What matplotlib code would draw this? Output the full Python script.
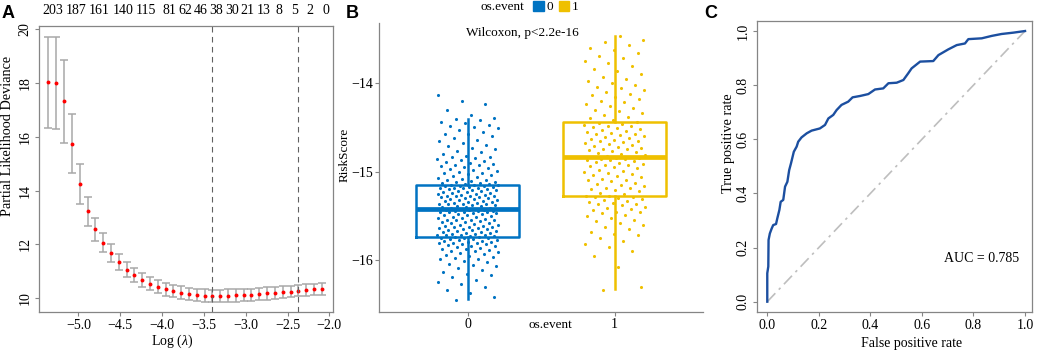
import matplotlib.pyplot as plt
import numpy as np
from matplotlib.patches import Patch

plt.rcParams['font.family'] = 'Liberation Serif'
plt.rcParams['font.size'] = 10
plt.rcParams['mathtext.fontset'] = 'custom'
plt.rcParams['mathtext.rm'] = 'Liberation Serif'
plt.rcParams['mathtext.it'] = 'Liberation Serif:italic'

W, H = 1038, 353

# -----------------------------------------------------------------------------
# Panel A data: cross-validated partial likelihood deviance
log_lambda = [-5.359, -5.266, -5.172, -5.079, -4.985, -4.892, -4.799, -4.705, -4.612,
              -4.518, -4.425, -4.332, -4.238, -4.145, -4.051, -3.958, -3.865, -3.771,
              -3.678, -3.584, -3.491, -3.398, -3.304, -3.211, -3.117, -3.024, -2.931,
              -2.837, -2.744, -2.650, -2.557, -2.464, -2.370, -2.277, -2.183, -2.090]
cv_mean = [18.03, 18.00, 17.33, 15.75, 14.24, 13.23, 12.56, 12.06, 11.68,
           11.34, 11.06, 10.85, 10.67, 10.54, 10.42, 10.32, 10.26, 10.20,
           10.15, 10.11, 10.09, 10.08, 10.08, 10.09, 10.10, 10.11, 10.12,
           10.14, 10.17, 10.18, 10.21, 10.24, 10.28, 10.29, 10.32, 10.34]
cv_se = [1.70, 1.71, 1.55, 1.10, 0.75, 0.54, 0.42, 0.35, 0.32,
         0.30, 0.28, 0.27, 0.26, 0.25, 0.25, 0.24, 0.24, 0.23,
         0.23, 0.23, 0.23, 0.23, 0.23, 0.23, 0.23, 0.23, 0.23,
         0.23, 0.23, 0.22, 0.22, 0.22, 0.22, 0.22, 0.22, 0.22]
lambda_min = -3.398
lambda_1se = -2.370
# number of non-zero coefficients, printed along the top
nz_pos = [-5.312, -5.032, -4.752, -4.471, -4.191, -3.911, -3.724, -3.537,
          -3.351, -3.164, -2.977, -2.790, -2.603, -2.417, -2.230, -2.043]
nz_labels = ['203', '187', '161', '140', '115', '81', '62', '46',
             '38', '30', '21', '13', '8', '5', '2', '0']

# -----------------------------------------------------------------------------
# Panel B data: RiskScore by os.event
groups = ['0', '1']
risk0 = [-16.45, -16.41, -16.37, -16.33, -16.30, -16.27, -16.25, -16.22, -16.19, -16.17,
         -16.15, -16.13, -16.11, -16.09, -16.07, -16.05, -16.04, -16.02, -16.01, -15.99,
         -15.98, -15.97, -15.96, -15.95, -15.94, -15.93, -15.92, -15.91, -15.90, -15.89,
         -15.88, -15.87, -15.87, -15.86, -15.85, -15.84, -15.84, -15.83, -15.82, -15.82,
         -15.81, -15.80, -15.80, -15.79, -15.79, -15.78, -15.78, -15.77, -15.77, -15.76,
         -15.76, -15.75, -15.75, -15.75, -15.74, -15.74, -15.73, -15.73, -15.72, -15.72,
         -15.71, -15.71, -15.70, -15.70, -15.69, -15.69, -15.68, -15.68, -15.67, -15.67,
         -15.66, -15.66, -15.65, -15.65, -15.64, -15.64, -15.63, -15.62, -15.62, -15.61,
         -15.61, -15.60, -15.60, -15.59, -15.58, -15.58, -15.57, -15.57, -15.56, -15.55,
         -15.55, -15.54, -15.54, -15.53, -15.52, -15.52, -15.51, -15.51, -15.50, -15.49,
         -15.49, -15.48, -15.48, -15.47, -15.47, -15.46, -15.46, -15.45, -15.45, -15.44,
         -15.44, -15.44, -15.43, -15.43, -15.43, -15.42, -15.42, -15.42, -15.41, -15.41,
         -15.40, -15.40, -15.39, -15.39, -15.38, -15.38, -15.37, -15.37, -15.36, -15.36,
         -15.35, -15.35, -15.34, -15.34, -15.33, -15.33, -15.32, -15.32, -15.31, -15.31,
         -15.30, -15.30, -15.29, -15.29, -15.28, -15.28, -15.27, -15.27, -15.26, -15.26,
         -15.25, -15.25, -15.24, -15.24, -15.23, -15.23, -15.22, -15.22, -15.21, -15.21,
         -15.20, -15.20, -15.19, -15.19, -15.18, -15.18, -15.17, -15.17, -15.16, -15.16,
         -15.16, -15.15, -15.15, -15.15, -15.14, -15.14, -15.13, -15.13, -15.12, -15.12,
         -15.11, -15.10, -15.09, -15.08, -15.07, -15.06, -15.05, -15.04, -15.03, -15.02,
         -15.01, -15.00, -14.99, -14.98, -14.97, -14.96, -14.95, -14.94, -14.93, -14.92,
         -14.91, -14.90, -14.89, -14.88, -14.87, -14.86, -14.85, -14.84, -14.83, -14.82,
         -14.80, -14.78, -14.77, -14.75, -14.73, -14.71, -14.70, -14.68, -14.66, -14.64,
         -14.62, -14.60, -14.58, -14.57, -14.55, -14.53, -14.51, -14.50, -14.48, -14.47,
         -14.45, -14.44, -14.42, -14.41, -14.40, -14.36, -14.30, -14.24, -14.20, -14.14]
risk1 = [-16.33, -16.30, -16.08, -15.95, -15.90, -15.85, -15.82, -15.78, -15.75, -15.72,
         -15.70, -15.68, -15.65, -15.62, -15.60, -15.58, -15.56, -15.54, -15.52, -15.50,
         -15.49, -15.47, -15.46, -15.45, -15.43, -15.42, -15.41, -15.40, -15.38, -15.37,
         -15.36, -15.35, -15.34, -15.33, -15.32, -15.31, -15.30, -15.29, -15.29, -15.28,
         -15.27, -15.25, -15.24, -15.22, -15.21, -15.20, -15.19, -15.18, -15.16, -15.15,
         -15.14, -15.13, -15.11, -15.10, -15.09, -15.08, -15.06, -15.05, -15.04, -15.03,
         -15.01, -15.00, -14.99, -14.98, -14.96, -14.95, -14.94, -14.93, -14.92, -14.91,
         -14.90, -14.89, -14.88, -14.87, -14.87, -14.86, -14.86, -14.85, -14.85, -14.84,
         -14.83, -14.82, -14.81, -14.80, -14.79, -14.78, -14.77, -14.76, -14.75, -14.74,
         -14.73, -14.72, -14.71, -14.70, -14.69, -14.68, -14.67, -14.66, -14.65, -14.64,
         -14.63, -14.62, -14.61, -14.60, -14.59, -14.58, -14.57, -14.56, -14.55, -14.54,
         -14.53, -14.52, -14.51, -14.50, -14.49, -14.48, -14.47, -14.46, -14.45, -14.44,
         -14.42, -14.40, -14.38, -14.36, -14.34, -14.32, -14.30, -14.28, -14.26, -14.24,
         -14.22, -14.20, -14.18, -14.16, -14.14, -14.12, -14.10, -14.08, -14.06, -14.04,
         -14.02, -14.00, -13.98, -13.96, -13.93, -13.90, -13.87, -13.84, -13.81, -13.78,
         -13.75, -13.72, -13.69, -13.66, -13.63, -13.60, -13.57, -13.54, -13.51, -13.47]
box_q1 = [-15.74, -15.28]
box_med = [-15.42, -14.84]
box_q3 = [-15.15, -14.44]
box_lo = [-16.44, -16.32]
box_hi = [-14.41, -13.47]

# -----------------------------------------------------------------------------
# Panel C data: ROC curve
fpr = [0.0, 0.0, 0.004, 0.005, 0.010, 0.017, 0.023, 0.034, 0.039, 0.047, 0.052,
       0.062, 0.069, 0.078, 0.085, 0.092, 0.103, 0.114, 0.120, 0.133, 0.153,
       0.172, 0.204, 0.224, 0.237, 0.256, 0.269, 0.288, 0.314, 0.331, 0.360,
       0.392, 0.418, 0.450, 0.470, 0.502, 0.528, 0.547, 0.560, 0.593, 0.644,
       0.664, 0.702, 0.735, 0.767, 0.780, 0.832, 0.871, 0.909, 0.955, 1.0]
tpr = [0.0, 0.105, 0.130, 0.228, 0.252, 0.270, 0.283, 0.287, 0.308, 0.339, 0.369,
       0.376, 0.425, 0.443, 0.486, 0.511, 0.554, 0.573, 0.591, 0.607, 0.622,
       0.632, 0.640, 0.653, 0.677, 0.690, 0.708, 0.727, 0.739, 0.755, 0.760,
       0.767, 0.784, 0.788, 0.807, 0.809, 0.819, 0.844, 0.862, 0.887, 0.889,
       0.911, 0.932, 0.948, 0.954, 0.970, 0.973, 0.982, 0.989, 0.994, 1.0]
auc = 0.785

blue, yellow = '#0073C2', '#EFC000'
spine_grey = '#858585'

fig = plt.figure(figsize=(W / 100, H / 100), dpi=100)


def box(l, r, b, t):
    return [l / W, 1 - b / H, (r - l) / W, (b - t) / H]


def style_spines(ax, sides):
    for s in ax.spines:
        ax.spines[s].set_visible(s in sides)
        ax.spines[s].set_color(spine_grey)
        ax.spines[s].set_linewidth(0.9)
    ax.tick_params(colors='black', labelcolor='black', color=spine_grey)


def place_label(axis, x, y):
    axis.set_label_coords(x, y)
    axis.label.set_va('center')
    axis.label.set_ha('center')


# -----------------------------------------------------------------------------
# A
axA = fig.add_axes(box(38.5, 332.7, 312, 26))
axA.errorbar(log_lambda, cv_mean, yerr=cv_se, fmt='none', ecolor='#A8A8A8',
             elinewidth=1.1, capsize=2.8, capthick=1.1)
axA.plot(log_lambda, cv_mean, 'o', color='#FF0000', ms=2.8, mec='none')
for v in (lambda_min, lambda_1se):
    axA.axvline(v, color='#606060', lw=0.8, ls=(0, (5, 4)))
axA.set_xlim(-5.478, -1.96)
axA.set_ylim(9.48, 20.13)
axA.set_xticks([-5.0, -4.5, -4.0, -3.5, -3.0, -2.5, -2.0])
axA.set_yticks([10, 12, 14, 16, 18, 20])
style_spines(axA, ['left', 'right', 'top', 'bottom'])
axA.tick_params(length=3, width=0.8, pad=2)
for lab in axA.get_yticklabels():
    lab.set_rotation(90)
    lab.set_va('center')
axA.set_xlabel(r'Log ($\lambda$)')
axA.set_ylabel('Partial Likelihood Deviance', fontsize=10.3)
place_label(axA.xaxis, (172 - 38.5) / 294.2, -(341.7 - 312) / 286)
place_label(axA.yaxis, (7.5 - 38.5) / 294.2, (312 - 135.5) / 286)
top = axA.secondary_xaxis('top')
top.set_xticks(nz_pos, labels=nz_labels)
top.tick_params(length=0, pad=6.5)
top.spines['top'].set_visible(False)

# -----------------------------------------------------------------------------
# B
axB = fig.add_axes(box(379.3, 703, 311.7, 22.7))
cols = [blue, yellow]
for g, vals in enumerate([risk0, risk1]):
    n = len(vals)
    offs = ((np.arange(n) * 0.6180339887 + 0.31) % 1.0 - 0.5) * 0.42
    axB.scatter(g + offs, vals, s=5, color=cols[g], linewidths=0, zorder=3)
stats = [dict(q1=box_q1[i], med=box_med[i], q3=box_q3[i], whislo=box_lo[i],
              whishi=box_hi[i], fliers=[]) for i in range(2)]
bp = axB.bxp(stats, positions=[0, 1], widths=0.7, showfliers=False, showcaps=False)
for i, c in enumerate(cols):
    bp['boxes'][i].set(color=c, lw=1.8)
    bp['medians'][i].set(color=c, lw=3.4, solid_capstyle='butt')
    for w in bp['whiskers'][2 * i:2 * i + 2]:
        w.set(color=c, lw=1.8)
axB.set_xlim(-0.6, 1.6)
axB.set_ylim(-16.58, -13.32)
axB.set_xticks([0, 1], labels=groups)
axB.set_yticks([-16, -15, -14])
style_spines(axB, ['left', 'bottom'])
axB.tick_params(length=3, width=0.8, pad=1.5, labelsize=10)
axB.set_ylabel('RiskScore', fontsize=9.5)
axB.set_xlabel('os.event', fontsize=9.5)
place_label(axB.xaxis, (550 - 379.3) / 323.7, -(325 - 311.7) / 289.0)
place_label(axB.yaxis, (345 - 379.3) / 323.7, (311.7 - 155) / 289.0)
fig.text(522 / W, 1 - 33 / H, 'Wilcoxon, p<2.2e-16', ha='center', va='center', fontsize=9.5)
fig.text(502 / W, 1 - 7 / H, 'os.event', ha='center', va='center', fontsize=9.5)
fig.legend(handles=[Patch(facecolor=blue, edgecolor=blue),
                    Patch(facecolor=yellow, edgecolor=yellow)],
           labels=groups, ncol=2, frameon=False, loc='center', fontsize=9.5,
           bbox_to_anchor=(556 / W, 1 - 7 / H), handlelength=0.8, handleheight=0.8,
           handletextpad=0.2, columnspacing=0.4, borderpad=0, borderaxespad=0)

# -----------------------------------------------------------------------------
# C
axC = fig.add_axes(box(756.7, 1032, 311.7, 21))
axC.plot([0, 1], [0, 1], color='#BEBEBE', lw=1.2, ls=(0, (7, 3, 1.5, 3)))
axC.plot(fpr, tpr, color='#1C4FA0', lw=1.7)
axC.set_xlim(-0.041, 1.027)
axC.set_ylim(-0.037, 1.037)
ticks = [0.0, 0.2, 0.4, 0.6, 0.8, 1.0]
axC.set_xticks(ticks, labels=['%.1f' % t for t in ticks])
axC.set_yticks(ticks, labels=['%.1f' % t for t in ticks])
style_spines(axC, ['left', 'right', 'top', 'bottom'])
axC.tick_params(length=3, width=0.8, pad=2)
for lab in axC.get_yticklabels():
    lab.set_rotation(90)
    lab.set_va('center')
axC.set_xlabel('False positive rate')
axC.set_ylabel('True positive rate', fontsize=10.3)
place_label(axC.xaxis, (911.7 - 756.7) / 275.3, -(343 - 311.7) / 290.7)
place_label(axC.yaxis, (728.3 - 756.7) / 275.3, (311.7 - 143.5) / 290.7)
axC.text(0.832, 0.16, 'AUC = %.3f' % auc, ha='center', va='center')

# panel letters
for x, letter in [(2, 'A'), (346, 'B'), (704, 'C')]:
    fig.text(x / W, 1 - 17.5 / H, letter, family='Liberation Sans', weight='bold',
             fontsize=13, ha='left', va='baseline')

fig.savefig('out.png', dpi=100)
